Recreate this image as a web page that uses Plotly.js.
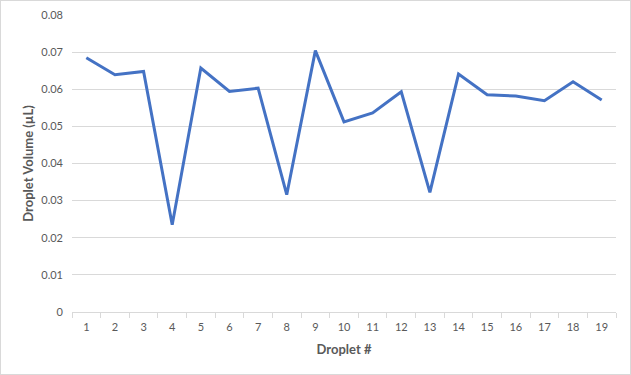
<!DOCTYPE html>
<html><head><meta charset="utf-8">
<script src="https://cdn.plot.ly/plotly-3.0.1.min.js"></script>
<style>html,body{margin:0;padding:0;background:#fff;}#chart{width:631px;height:375px;box-sizing:border-box;border:1px solid #d9d9d9;}</style>
</head><body><div id="chart"></div>
<script>
var droplets = ["1","2","3","4","5","6","7","8","9","10","11","12","13","14","15","16","17","18","19"];
var volumes = [0.0685,0.0639,0.0648,0.0235,0.0657,0.0594,0.0603,0.0316,0.0704,0.0512,0.0536,0.0593,0.0322,0.0641,0.0585,0.0582,0.0569,0.0620,0.0571];
var yTicks = [0,0.01,0.02,0.03,0.04,0.05,0.06,0.07,0.08];
var yTickText = ["0","0.01","0.02","0.03","0.04","0.05","0.06","0.07","0.08"];
var xTitle = "Droplet #";
var yTitle = "Droplet Volume (µL)";

Plotly.newPlot("chart", [{
  x: droplets, y: volumes, type: "scatter", mode: "lines",
  line: {color: "#4472C4", width: 3, shape: "linear"},
  hoverinfo: "none"
}], {
  width: 629, height: 373,
  margin: {l: 71, r: 14, t: 14, b: 62},
  paper_bgcolor: "#fff", plot_bgcolor: "#fff",
  font: {family: "Lato, 'Open Sans', sans-serif", size: 11, color: "#595959"},
  showlegend: false,
  xaxis: {
    type: "category", range: [-0.5, 18.5], tickson: "boundaries", ticks: "outside", ticklen: 5, tickcolor: "#d9d9d9",
    showline: true, linecolor: "#d9d9d9", linewidth: 1, showgrid: false, zeroline: false,
    ticklabelstandoff: 5,
    tickfont: {size: 11, color: "#595959"},
    title: {text: xTitle, font: {size: 13, color: "#595959", family: "Lato, 'Open Sans', sans-serif", weight: "bold"}, standoff: 12}
  },
  yaxis: {
    range: [0, 0.08], tickvals: yTicks, ticktext: yTickText,
    showgrid: true, gridcolor: "#d9d9d9", gridwidth: 1, zeroline: false, showline: false,
    ticks: "", ticklabelstandoff: 8,
    tickfont: {size: 11, color: "#595959"},
    title: {text: yTitle, font: {size: 13, color: "#595959", family: "Lato, 'Open Sans', sans-serif", weight: "bold"}, standoff: 4}
  }
}, {staticPlot: true});
</script></body></html>
